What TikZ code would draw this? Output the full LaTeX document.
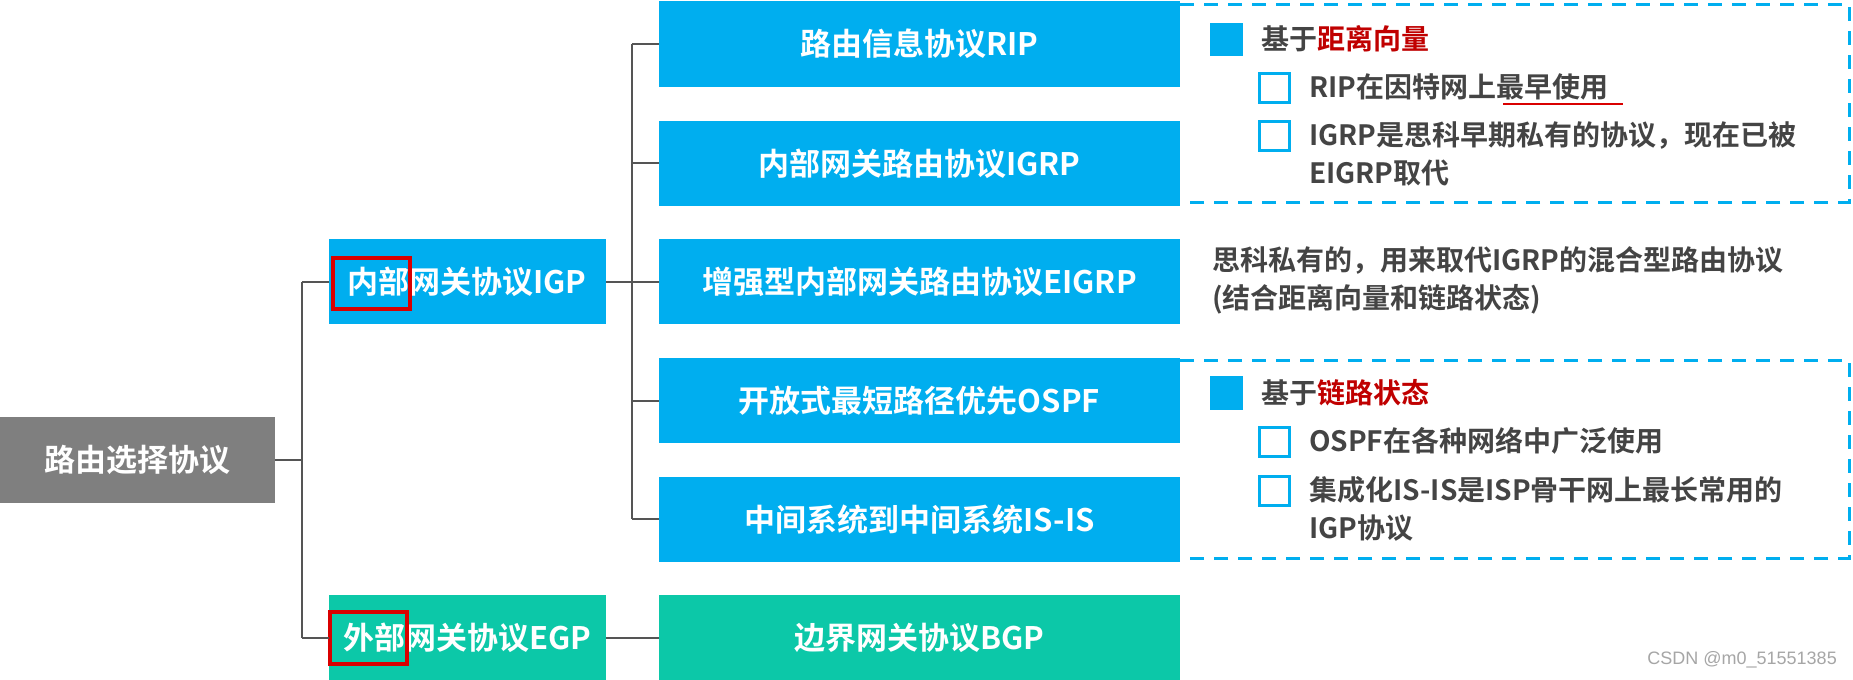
\documentclass[tikz,border=0pt]{standalone}
\usepackage{fontspec}
\setmainfont{Noto Sans CJK SC Bold}
\newfontfamily\wm{Liberation Sans}
\definecolor{bl}{HTML}{00AEEF}
\definecolor{gr}{HTML}{0CC8A8}
\definecolor{gy}{HTML}{7F7F7F}
\definecolor{tx}{HTML}{444444}
\definecolor{rd}{HTML}{C00000}
\definecolor{ln}{HTML}{555555}
\begin{document}
\begin{tikzpicture}[x=1pt,y=-1pt,
  box/.style={inner sep=0pt,text=white,font=\fontsize{31}{34}\selectfont},
  side/.style={anchor=west,inner sep=0pt,text=tx,font=\fontsize{28}{32}\selectfont},
  conn/.style={draw=ln,line width=1.8pt},
  dsh/.style={draw=bl,line width=3pt,dash pattern=on 14pt off 10pt},
  fsq/.style={fill=bl},
  hsq/.style={draw=bl,line width=3pt},
  hl/.style={draw=red!85!black,line width=3.5pt}]
\useasboundingbox (0,0) rectangle (1853,680);
\fill[white] (0,0) rectangle (1853,680);
% boxes
\fill[gy] (0,417) rectangle (275,503);
\node[box] (root) at (137,460) {路由选择协议};
\fill[bl] (329,239) rectangle (606,324);
\node[box] (igp) at (467,282) {内部网关协议IGP};
\fill[gr] (329,595) rectangle (606,680);
\node[box] (egp) at (467,638) {外部网关协议EGP};
\foreach \n/\a/\b/\t in {rip/1/87/路由信息协议RIP, igrp/121/206/内部网关路由协议IGRP, eigrp/239/324/增强型内部网关路由协议EIGRP, ospf/358/443/开放式最短路径优先OSPF, isis/477/562/中间系统到中间系统IS-IS}{
  \fill[bl] (659,\a) rectangle (1180,\b);
  \node[box] (\n) at (919.5,{(\a+\b)/2}) {\t};
}
\fill[gr] (659,595) rectangle (1180,680);
\node[box] (bgp) at (919.5,638) {边界网关协议BGP};
% highlights
\draw[hl] (333,258) rectangle (410,309);
\draw[hl] (330,612) rectangle (407,664);
% connectors
\coordinate (j1) at (302,460);
\coordinate (j2) at (632,282);
\draw[conn] (275,460) -- (j1);
\draw[conn] (302,282) -- (302,638);
\draw[conn] (302,282) -- (329,282);
\draw[conn] (302,638) -- (329,638);
\draw[conn] (606,282) -- (659,282);
\draw[conn] (632,44) -- (632,519);
\foreach \y in {44,163,401,519}{\draw[conn] (632,\y) -- (659,\y);}
\draw[conn] (606,638) -- (659,638);
% dashed groups
\draw[dsh] (1180,4) -- (1849,4) -- (1849,202) -- (1180,202);
\draw[dsh] (1180,360) -- (1849,360) -- (1849,558) -- (1180,558);
% group 1
\fill[fsq] (1210,23) rectangle (1243,56);
\node[side] (g1) at (1261,39) {基于\textcolor{rd}{距离向量}};
\draw[hsq] (1259,73) rectangle (1289,102);
\node[side] (r1) at (1309,87) {RIP在因特网上最早使用};
\draw[red!85!black,line width=2.5pt] (1503,104) -- (1623,104);
\draw[hsq] (1259,121) rectangle (1289,150);
\node[side] (r2) at (1309,136) {IGRP是思科早期私有的协议，现在已被};
\node[side] (r3) at (1309,173) {EIGRP取代};
\node[side] (e1) at (1212,260) {思科私有的，用来取代IGRP的混合型路由协议};
\node[side] (e2) at (1212,299) {(结合距离向量和链路状态)};
% group 2
\fill[fsq] (1210,376) rectangle (1243,410);
\node[side] (g2) at (1261,393) {基于\textcolor{rd}{链路状态}};
\draw[hsq] (1259,427) rectangle (1289,456);
\node[side] (o1) at (1309,441) {OSPF在各种网络中广泛使用};
\draw[hsq] (1259,476) rectangle (1289,505);
\node[side] (o2) at (1309,490) {集成化IS-IS是ISP骨干网上最长常用的};
\node[side] (o3) at (1309,528) {IGP协议};
\node[anchor=east,inner sep=0pt,text=gray!70,font=\wm\fontsize{18}{20}\selectfont] (wm) at (1837,660) {CSDN @m0\_51551385};
\end{tikzpicture}
\end{document}
